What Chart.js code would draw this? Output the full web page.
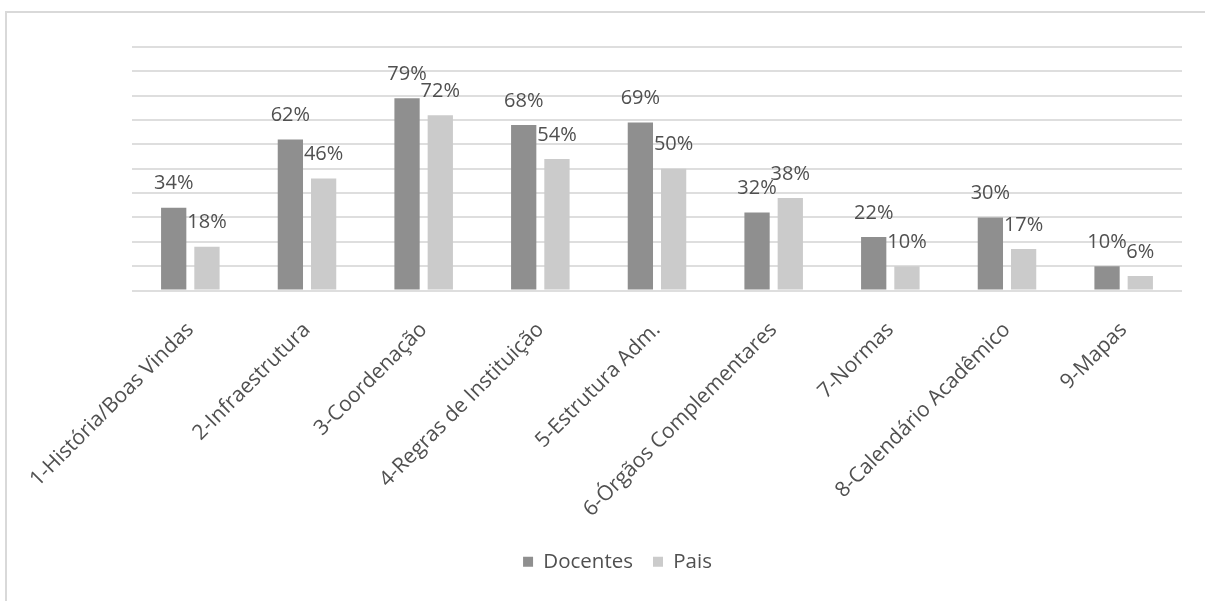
<!DOCTYPE html>
<html>
<head>
<meta charset="utf-8">
<script src="https://cdn.jsdelivr.net/npm/chart.js@4.4.1/dist/chart.umd.min.js"></script>
<style>
  html, body { margin: 0; padding: 0; background: #fff; overflow: hidden; }
  #wrap { position: relative; width: 1205px; height: 601px; }
  #frame {
    position: absolute; left: 5px; top: 11px; width: 1300px; height: 700px;
    border-left: 2px solid #d9d9d9; border-top: 2px solid #d9d9d9;
    box-sizing: border-box; pointer-events: none;
  }
  canvas { position: absolute; left: 0; top: 0; }
</style>
</head>
<body>
<div id="wrap">
  <div id="frame"></div>
  <canvas id="grafico" width="1205" height="601"></canvas>
</div>
<script>
// categorias e valores (%)
const categorias = [
  '1-História/Boas Vindas',
  '2-Infraestrutura',
  '3-Coordenação',
  '4-Regras de Instituição',
  '5-Estrutura Adm.',
  '6-Órgãos Complementares',
  '7-Normas',
  '8-Calendário Acadêmico',
  '9-Mapas'
];
const docentes = [34, 62, 79, 68, 69, 32, 22, 30, 10];
const pais = [18, 46, 72, 54, 50, 38, 10, 17, 6];

const corTexto = '#505050';
const fonte = '"Open Sans", "Liberation Sans", sans-serif';

// rótulos de valor acima de cada barra
const rotulosValor = {
  id: 'rotulosValor',
  afterDatasetsDraw(chart) {
    const ctx = chart.ctx;
    ctx.save();
    ctx.font = '20px ' + fonte;
    ctx.fillStyle = corTexto;
    ctx.textAlign = 'center';
    ctx.textBaseline = 'bottom';
    chart.data.datasets.forEach((ds, i) => {
      const meta = chart.getDatasetMeta(i);
      meta.data.forEach((bar, j) => {
        ctx.fillText(ds.data[j] + '%', bar.x, bar.y - 14);
      });
    });
    ctx.restore();
  }
};

new Chart(document.getElementById('grafico'), {
  type: 'bar',
  data: {
    labels: categorias,
    datasets: [
      {
        label: 'Docentes',
        data: docentes,
        backgroundColor: '#8f8f8f',
        categoryPercentage: 0.57,
        barPercentage: 0.76
      },
      {
        label: 'Pais',
        data: pais,
        backgroundColor: '#cbcbcb',
        categoryPercentage: 0.57,
        barPercentage: 0.76
      }
    ]
  },
  options: {
    responsive: false,
    animation: false,
    layout: { padding: { left: 53, right: 23, top: 47, bottom: 19 } },
    plugins: {
      tooltip: { enabled: false },
      legend: {
        position: 'bottom',
        labels: {
          boxWidth: 10,
          boxHeight: 10,
          padding: 20,
          color: corTexto,
          font: { family: fonte, size: 20.5 }
        }
      }
    },
    scales: {
      x: {
        grid: { display: false },
        border: { display: false },
        ticks: {
          autoSkip: false,
          minRotation: 45,
          maxRotation: 45,
          padding: 19,
          color: corTexto,
          font: { family: fonte, size: 21 }
        },
        afterFit(scale) { scale.height = 241; }
      },
      y: {
        min: 0,
        max: 100,
        ticks: { stepSize: 10, display: false },
        grid: { color: '#dedede', lineWidth: 2, drawTicks: false },
        border: { display: false },
        afterFit(scale) { scale.width = 79; }
      }
    }
  },
  plugins: [rotulosValor]
});
</script>
</body>
</html>
